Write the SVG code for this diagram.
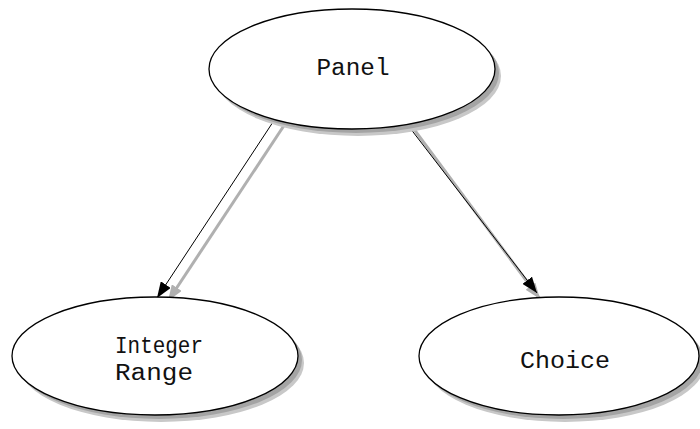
<svg xmlns="http://www.w3.org/2000/svg" width="700" height="429" viewBox="0 0 700 429">
<defs>
<style>
.sh2{fill:#c8c8c8}
.sh1{fill:#a4a4a4}
.node{fill:#fff;stroke:#000;stroke-width:1.3}
.lbl{font-family:"Liberation Mono","Courier New",monospace;font-size:23px;fill:#111;text-anchor:middle}
.edge{stroke:#000;stroke-width:1;fill:none}
.edgesh{stroke:#b0b0b0;stroke-width:3;fill:none}
</style>
<marker id="ah" viewBox="0 0 16 12" refX="16" refY="6" markerWidth="16" markerHeight="12" markerUnits="userSpaceOnUse" orient="auto">
<path d="M0,0 L16,6 L0,12 Z" fill="#000"/>
</marker>
<marker id="ahs" viewBox="0 0 16 12" refX="16" refY="6" markerWidth="16" markerHeight="12" markerUnits="userSpaceOnUse" orient="auto">
<path d="M0,0 L16,6 L0,12 Z" fill="#b0b0b0"/>
</marker>
</defs>
<g id="edges">
<line class="edgesh" x1="287" y1="121" x2="168" y2="301" marker-end="url(#ahs)"/>
<line class="edge" x1="273" y1="122" x2="157" y2="298" marker-end="url(#ah)"/>
<line class="edgesh" x1="413" y1="128" x2="540" y2="299" marker-end="url(#ahs)"/>
<line class="edge" x1="410" y1="128" x2="537" y2="293" marker-end="url(#ah)"/>
</g>
<g id="panel">
<ellipse class="sh2" cx="358" cy="76" rx="143" ry="60"/>
<ellipse class="sh1" cx="356" cy="73" rx="143" ry="60"/>
<ellipse class="node" cx="352" cy="69" rx="143" ry="60"/>
<text class="lbl" x="353" y="75" textLength="73" lengthAdjust="spacingAndGlyphs">Panel</text>
</g>
<g id="integer-range">
<ellipse class="sh2" cx="161" cy="363" rx="143" ry="59"/>
<ellipse class="sh1" cx="159" cy="360" rx="143" ry="59"/>
<ellipse class="node" cx="155" cy="356" rx="143" ry="59"/>
<text class="lbl" x="159" y="353" textLength="88" lengthAdjust="spacingAndGlyphs">Integer</text>
<text class="lbl" x="154" y="380" textLength="78" lengthAdjust="spacingAndGlyphs">Range</text>
</g>
<g id="choice">
<ellipse class="sh2" cx="565" cy="363" rx="140" ry="59"/>
<ellipse class="sh1" cx="563" cy="360" rx="140" ry="59"/>
<ellipse class="node" cx="559" cy="356" rx="140" ry="59"/>
<text class="lbl" x="565" y="368" textLength="90" lengthAdjust="spacingAndGlyphs">Choice</text>
</g>
</svg>
